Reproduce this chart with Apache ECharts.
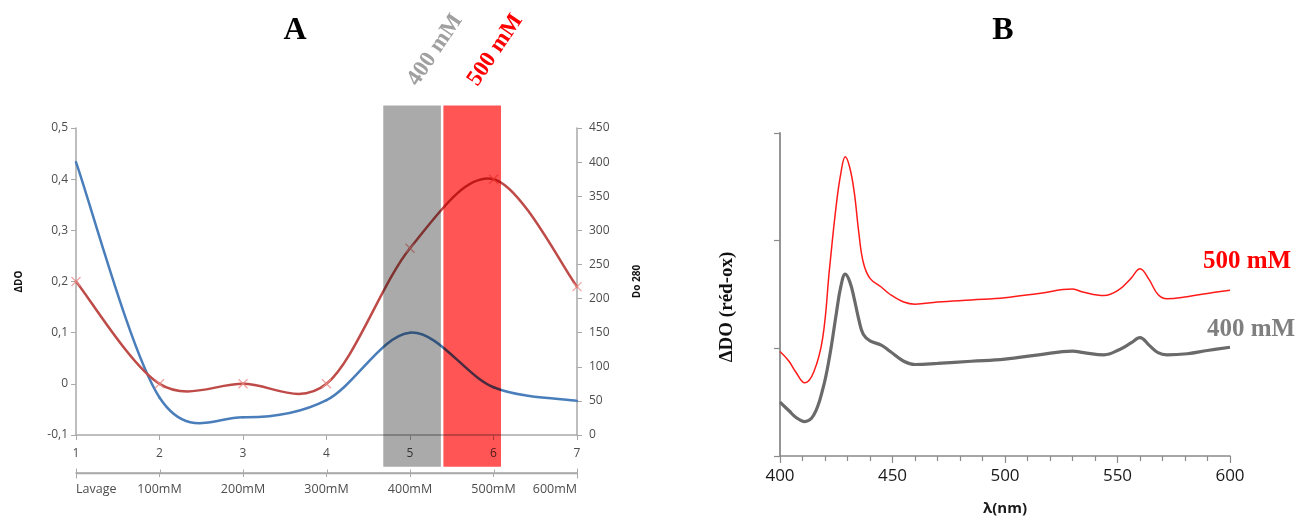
<!DOCTYPE html>
<html><head><meta charset="utf-8">
<script src="https://cdn.jsdelivr.net/npm/echarts@6/dist/echarts.min.js"></script>
<style>html,body{margin:0;padding:0;background:#fff}#c{width:1305px;height:521px}</style>
</head><body><div id="c"></div>
<script>
// ---- Panel A data ----
const fractionPositions = [1, 2, 3, 4, 5, 6, 7];
const fractionLabels = ['Lavage', '100mM', '200mM', '300mM', '400mM', '500mM', '600mM'];
const deltaDO = [0.2, 0, 0, 0, 0.265, 0.40, 0.19];
const do280 = [400, 55, 26, 51, 150, 70, 50];
const bandNames = ['400 mM', '500 mM'];
const bandFrom = [4.68, 5.40];
const bandTo = [5.37, 6.09];
const bandTop = 0.544;
const bandBottom = -0.162;

// ---- Panel B data ----
const wavelengths = [400, 404, 407, 411, 415, 419, 422, 425, 427, 429, 431, 433, 435, 437, 440, 445, 449, 455, 460, 470, 485, 500, 515, 530, 535, 544, 551, 556, 560, 564, 568, 572, 581, 590, 600];
const spectrum500 = [0.97, 0.88, 0.78, 0.68, 0.78, 1.10, 1.74, 2.33, 2.62, 2.78, 2.68, 2.45, 2.08, 1.80, 1.65, 1.57, 1.50, 1.43, 1.41, 1.43, 1.45, 1.47, 1.51, 1.55, 1.52, 1.49, 1.55, 1.65, 1.74, 1.64, 1.50, 1.46, 1.48, 1.51, 1.54];
const spectrum400 = [0.50, 0.42, 0.36, 0.32, 0.38, 0.62, 0.92, 1.32, 1.57, 1.69, 1.62, 1.46, 1.27, 1.13, 1.07, 1.03, 0.97, 0.88, 0.85, 0.86, 0.88, 0.90, 0.94, 0.975, 0.96, 0.94, 0.99, 1.05, 1.10, 1.03, 0.96, 0.94, 0.95, 0.98, 1.01];

const chart = echarts.init(document.getElementById('c'), null, {renderer: 'canvas'});
const axisGray = '#a9a9a9';
const lblGray = '#4d4d4d';
const sans = 'Open Sans';
const serif = 'Liberation Serif';

// Excel-like smoothed line: each data item draws the cubic segment to the next point
function splineRenderer(xs, ys, color, width) {
  return function (params, api) {
    const n = xs.length, i = params.dataIndex;
    if (i >= n - 1) return null;
    const P = k => { const j = Math.max(0, Math.min(n - 1, k)); return api.coord([xs[j], ys[j]]); };
    const p0 = P(i - 1), p1 = P(i), p2 = P(i + 1), p3 = P(i + 2);
    const t = 1 / 6;
    return {
      type: 'bezierCurve',
      shape: {x1: p1[0], y1: p1[1], x2: p2[0], y2: p2[1],
        cpx1: p1[0] + (p2[0] - p0[0]) * t, cpy1: p1[1] + (p2[1] - p0[1]) * t,
        cpx2: p2[0] - (p3[0] - p1[0]) * t, cpy2: p2[1] - (p3[1] - p1[1]) * t},
      style: {stroke: color, lineWidth: width, fill: 'none', lineCap: 'round'}
    };
  };
}

const option = {
  backgroundColor: '#ffffff',
  animation: false,
  grid: [
    {left: 76, right: 728, top: 128, bottom: 86},
    {left: 780, right: 75, top: 133, bottom: 63},
    {left: 76, right: 728, top: 472, height: 1}
  ],
  xAxis: [
    {gridIndex: 0, type: 'value', min: 1, max: 7, interval: 1, position: 'bottom',
     axisLine: {show: true, onZero: false, lineStyle: {color: axisGray, width: 1.5}},
     axisTick: {show: true, length: 5, lineStyle: {color: axisGray}},
     splitLine: {show: false},
     axisLabel: {color: lblGray, fontFamily: sans, fontSize: 12, margin: 13}},
    {gridIndex: 2, type: 'value', min: 1, max: 7, interval: 1, position: 'bottom',
     axisLine: {show: true, onZero: false, lineStyle: {color: axisGray, width: 1.5}},
     axisTick: {show: true, length: 4, lineStyle: {color: axisGray}},
     splitLine: {show: false},
     axisLabel: {color: lblGray, fontFamily: sans, fontSize: 12.5, margin: 10,
       formatter: v => fractionLabels[fractionPositions.indexOf(Math.round(v))] || '',
       alignMinLabel: 'left', alignMaxLabel: 'right'}},
    {gridIndex: 1, type: 'value', min: 400, max: 600, interval: 50,
     axisLine: {show: true, onZero: false, lineStyle: {color: '#8a8a8a', width: 1.5}},
     axisTick: {show: true, length: 7, lineStyle: {color: '#8a8a8a', width: 1.2}},
     minorTick: {show: true, splitNumber: 5, length: 5, lineStyle: {color: '#8a8a8a', width: 1.2}},
     splitLine: {show: false},
     axisLabel: {color: '#1a1a1a', fontFamily: sans, fontSize: 17, margin: 12},
     name: 'λ(nm)', nameLocation: 'middle', nameGap: 45,
     nameTextStyle: {color: '#1a1a1a', fontFamily: sans, fontWeight: 'bold', fontSize: 15}}
  ],
  yAxis: [
    {gridIndex: 0, type: 'value', min: -0.1, max: 0.5, interval: 0.1, position: 'left',
     axisLine: {show: true, onZero: false, lineStyle: {color: axisGray, width: 1.5}},
     axisTick: {show: true, length: 5, lineStyle: {color: axisGray}},
     splitLine: {show: false},
     axisLabel: {color: lblGray, fontFamily: sans, fontSize: 12, margin: 8,
       formatter: v => (Math.abs(v) < 1e-9 ? '0' : v.toFixed(1).replace('.', ','))},
     name: 'ΔDO', nameLocation: 'middle', nameGap: 52, nameRotate: 90,
     nameTextStyle: {color: '#111', fontFamily: sans, fontWeight: 'bold', fontSize: 10}},
    {gridIndex: 0, type: 'value', min: 0, max: 450, interval: 50, position: 'right',
     axisLine: {show: true, onZero: false, lineStyle: {color: axisGray, width: 1.5}},
     axisTick: {show: true, length: 5, lineStyle: {color: axisGray}},
     splitLine: {show: false},
     axisLabel: {color: lblGray, fontFamily: sans, fontSize: 12, margin: 12},
     name: 'Do 280', nameLocation: 'middle', nameGap: 55, nameRotate: 90,
     nameTextStyle: {color: '#111', fontFamily: sans, fontWeight: 'bold', fontSize: 10}},
    {gridIndex: 1, type: 'value', min: 0, max: 3, interval: 1,
     axisLine: {show: true, onZero: false, lineStyle: {color: '#8a8a8a', width: 1.8}},
     axisTick: {show: true, length: 6, lineStyle: {color: '#8a8a8a', width: 1.2}},
     splitLine: {show: false},
     axisLabel: {show: false}},
    {gridIndex: 2, type: 'value', show: false, min: 0, max: 1}
  ],
  series: [
    {name: 'Do 280', type: 'custom', xAxisIndex: 0, yAxisIndex: 1, encode: {x: 0, y: 1},
     data: fractionPositions.map((x, i) => [x, do280[i]]),
     renderItem: splineRenderer(fractionPositions, do280, '#4a7ebb', 2.5), z: 2},
    {name: 'ΔDO', type: 'custom', xAxisIndex: 0, yAxisIndex: 0, encode: {x: 0, y: 1},
     data: fractionPositions.map((x, i) => [x, deltaDO[i]]),
     renderItem: splineRenderer(fractionPositions, deltaDO, '#be4b48', 2.5), z: 3},
    {name: 'ΔDO points', type: 'scatter', xAxisIndex: 0, yAxisIndex: 0,
     symbol: 'path://M0,0L10,10M10,0L0,10', symbolSize: 9,
     data: fractionPositions.map((x, i) => [x, deltaDO[i]]),
     itemStyle: {color: 'rgba(0,0,0,0)', borderColor: '#ec8d8a', borderWidth: 1.3}, z: 4},
    {name: '500 mM', type: 'line', xAxisIndex: 2, yAxisIndex: 2, smooth: 0.4, showSymbol: false,
     data: wavelengths.map((w, i) => [w, spectrum500[i]]),
     lineStyle: {color: '#ff1a1a', width: 1.5}},
    {name: '400 mM', type: 'line', xAxisIndex: 2, yAxisIndex: 2, smooth: 0.4, showSymbol: false,
     data: wavelengths.map((w, i) => [w, spectrum400[i]]),
     lineStyle: {color: '#6a6a6a', width: 3.2}}
  ]
};
chart.setOption(option);

// Bands and annotations derived from the axes' scales
const finderA = {xAxisIndex: 0, yAxisIndex: 0};
const finderRow2 = {xAxisIndex: 1, yAxisIndex: 3};
const bandFill = ['#aaaaaa', '#ff5555'];
const bandTextColor = ['#a0a0a0', '#ff0000'];
const graphics = [];

// second category row axis line with its ticks
const r0 = chart.convertToPixel(finderRow2, [fractionPositions[0], 0]);
const r1 = chart.convertToPixel(finderRow2, [fractionPositions[fractionPositions.length - 1], 0]);
const rowY = Math.round(r0[1]) + 0.5;
graphics.push({type: 'line', z: 5, silent: true,
  shape: {x1: r0[0], y1: rowY, x2: r1[0], y2: rowY},
  style: {stroke: axisGray, lineWidth: 1.5}});
fractionPositions.forEach((p, i) => {
  const q = chart.convertToPixel(finderRow2, [p, 0]);
  const ends = (i === 0 || i === fractionPositions.length - 1);
  graphics.push({type: 'line', z: 5, silent: true,
    shape: {x1: Math.round(q[0]) + 0.5, y1: rowY - (ends ? 5 : 4), x2: Math.round(q[0]) + 0.5, y2: rowY + (ends ? 5 : 0)},
    style: {stroke: axisGray, lineWidth: 1}});
});

bandNames.forEach((nm, i) => {
  const p1 = chart.convertToPixel(finderA, [bandFrom[i], bandTop]);
  const p2 = chart.convertToPixel(finderA, [bandTo[i], bandBottom]);
  graphics.push({type: 'rect', z: 50, silent: true,
    shape: {x: p1[0], y: p1[1], width: p2[0] - p1[0], height: p2[1] - p1[1]},
    style: {fill: bandFill[i], blend: 'multiply'}});
  const cx = (p1[0] + p2[0]) / 2;
  graphics.push({type: 'text', z: 60, x: cx + 23, y: 50, rotation: 56 * Math.PI / 180,
    style: {text: nm, fill: bandTextColor[i], font: 'bold 23px "Liberation Serif"', align: 'center', verticalAlign: 'middle'}});
});
graphics.push({type: 'text', z: 60, x: 295, y: 31,
  style: {text: 'A', fill: '#000', font: 'bold 32px "Liberation Serif"', align: 'center', verticalAlign: 'middle'}});
graphics.push({type: 'text', z: 60, x: 1003, y: 31,
  style: {text: 'B', fill: '#000', font: 'bold 32px "Liberation Serif"', align: 'center', verticalAlign: 'middle'}});
graphics.push({type: 'text', z: 60, x: 727, y: 307, rotation: Math.PI / 2,
  style: {text: 'ΔDO (réd-ox)', fill: '#111', font: 'bold 19px "Liberation Serif"', align: 'center', verticalAlign: 'middle'}});
graphics.push({type: 'text', z: 60, x: 1247, y: 262,
  style: {text: '500 mM', fill: '#ff0000', font: 'bold 25px "Liberation Serif"', align: 'center', verticalAlign: 'middle'}});
graphics.push({type: 'text', z: 60, x: 1251, y: 330,
  style: {text: '400 mM', fill: '#7f7f7f', font: 'bold 25px "Liberation Serif"', align: 'center', verticalAlign: 'middle'}});
chart.setOption({graphic: graphics});
</script>
</body></html>
